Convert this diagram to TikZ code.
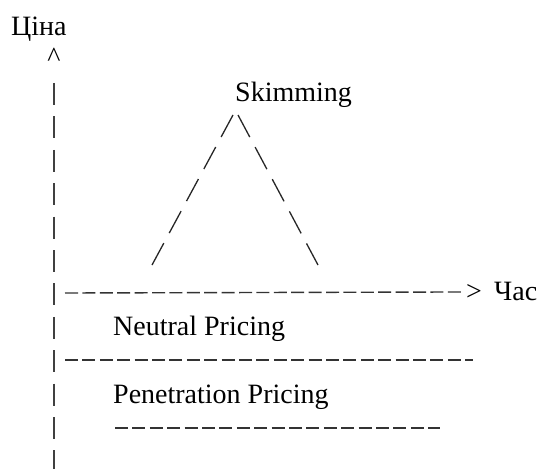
\documentclass[tikz,border=0pt]{standalone}
\usepackage{fontspec}
\setmainfont{Liberation Serif}
\newfontfamily\tnr{Liberation Serif}
\usetikzlibrary{positioning}

\begin{document}
\begin{tikzpicture}[x=1pt, y=-1pt,
    lbl/.style={inner sep=0pt, anchor=base west, font=\tnr\fontsize{28pt}{34pt}\selectfont},
    bar/.style={line width=1.4pt, black!75, dash pattern=on 22pt off 11.4pt},
    dsh/.style={line width=1.4pt, black!80, dash pattern=on 13pt off 4.4pt},
    slant/.style={line width=1.3pt, black!85, dash pattern=on 25pt off 11.4pt}]
  \useasboundingbox (0,0) rectangle (556,468);

  % Вісь ціни
  \node[lbl] (tsina) at (11,36) {Ціна};
  \node[lbl, anchor=base] (caret) at (54,67) {\textasciicircum};
  \coordinate (ytop) at (54,83);
  \coordinate (ybot) at (54,475);
  \draw[bar] (ytop) -- (ybot);

  % Skimming
  \node[lbl] (skim) at (235,102) {Skimming};
  \coordinate (apexL) at (233,115);
  \coordinate (footL) at (152,265);
  \coordinate (apexR) at (238,115);
  \coordinate (footR) at (318,265);
  \draw[slant] (apexL) -- (footL);
  \draw[slant] (apexR) -- (footR);

  % Вісь часу
  \coordinate (orig) at (65,293);
  \node[lbl] (gt) at (466,300) {>};
  \node[lbl] (chas) at (494,300) {Час};
  \draw[dsh] (orig) -- ([xshift=-5pt]gt.west);

  % Neutral Pricing
  \node[lbl] (neutral) at (113,335) {Neutral Pricing};
  \coordinate (nleft) at (65,360);
  \coordinate (nright) at (473,360);
  \draw[dsh] (nleft) -- (nright);

  % Penetration Pricing
  \node[lbl] (penet) at (113,403) {Penetration Pricing};
  \coordinate (pleft) at (115,428);
  \coordinate (pright) at (440,428);
  \draw[dsh] (pleft) -- (pright);
\end{tikzpicture}
\end{document}
